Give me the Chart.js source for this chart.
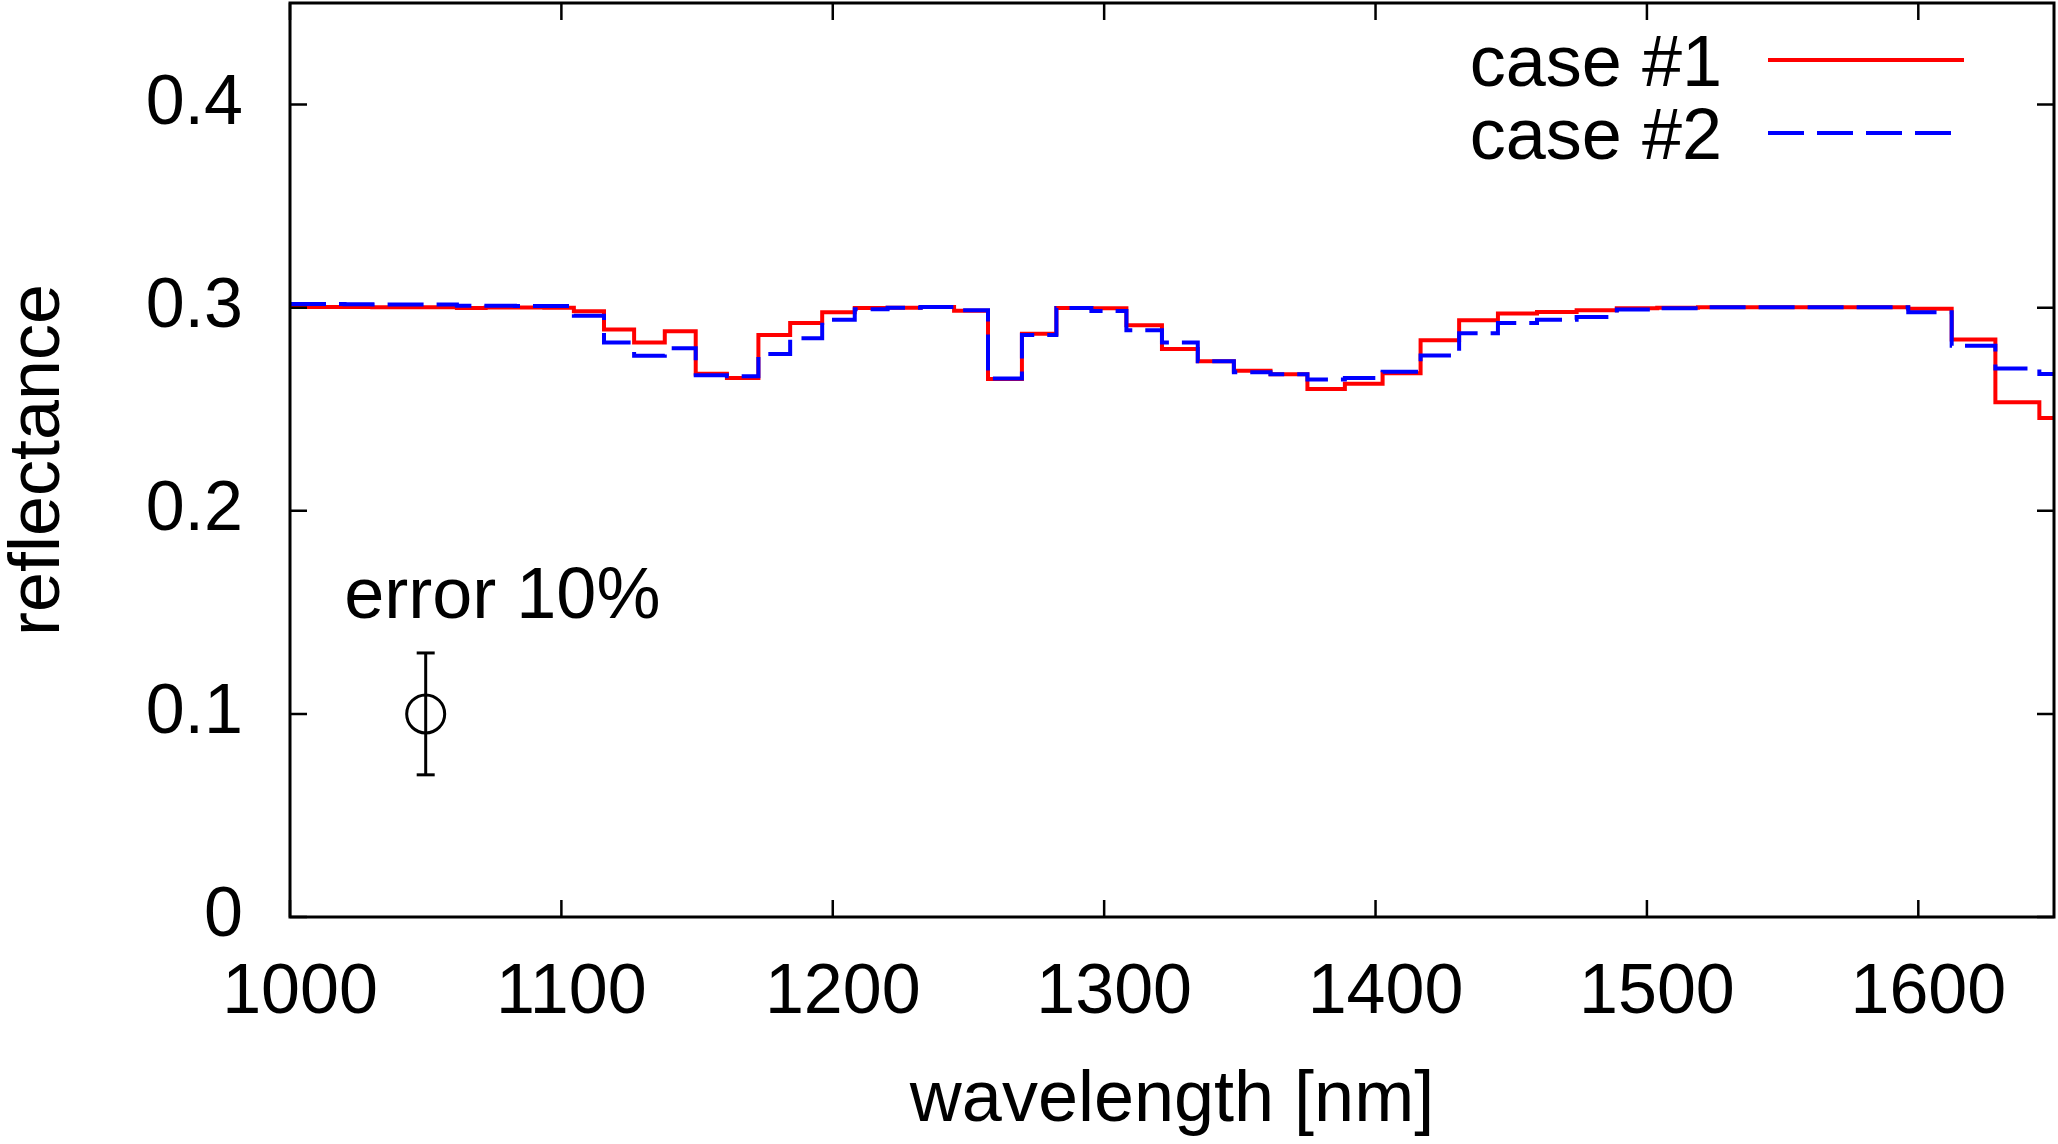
<!DOCTYPE html>
<html lang="en">
<head>
<meta charset="UTF-8">
<title>reflectance</title>
<script src="https://cdn.jsdelivr.net/npm/chart.js@4"></script>
<style>
  html, body { margin: 0; padding: 0; background: #ffffff; }
  #wrap { width: 2058px; height: 1144px; }
</style>
</head>
<body>
<div id="wrap"><canvas id="chart" width="2058" height="1144"></canvas></div>
<script>
// bin edges in nm (lambda/dlambda = 100), each value holds until the next edge
const binEdges = [
  1000.0, 1010.0, 1020.1, 1030.3, 1040.6, 1051.0, 1061.5, 1072.1, 1082.9, 1093.7,
  1104.6, 1115.7, 1126.8, 1138.1, 1149.5, 1161.0, 1172.6, 1184.3, 1196.1, 1208.1,
  1220.2, 1232.4, 1244.7, 1257.2, 1269.7, 1282.4, 1295.3, 1308.2, 1321.3, 1334.5,
  1347.8, 1361.3, 1374.9, 1388.7, 1402.6, 1416.6, 1430.8, 1445.1, 1459.5, 1474.1,
  1488.9, 1503.8, 1518.8, 1534.0, 1549.3, 1564.8, 1580.5, 1596.3, 1612.3, 1628.4,
  1644.6
];
const case1 = [
  0.3003, 0.3003, 0.3003, 0.3002, 0.3002, 0.3002, 0.2998, 0.3001, 0.3001, 0.3000,
  0.2982, 0.2892, 0.2829, 0.2884, 0.2675, 0.2654, 0.2866, 0.2925, 0.2978, 0.2998,
  0.3000, 0.3003, 0.2985, 0.2649, 0.2871, 0.2998, 0.2997, 0.2914, 0.2796, 0.2736,
  0.2690, 0.2672, 0.2599, 0.2625, 0.2677, 0.2840, 0.2938, 0.2971, 0.2979, 0.2987,
  0.2997, 0.3000, 0.3002, 0.3002, 0.3002, 0.3002, 0.3002, 0.2995, 0.2843, 0.2534,
  0.2457
];
const case2 = [
  0.3018, 0.3018, 0.3017, 0.3016, 0.3016, 0.3016, 0.3010, 0.3010, 0.3008, 0.3008,
  0.2960, 0.2829, 0.2763, 0.2800, 0.2667, 0.2662, 0.2772, 0.2850, 0.2941, 0.2992,
  0.3000, 0.3003, 0.2987, 0.2651, 0.2866, 0.2998, 0.2984, 0.2889, 0.2828, 0.2736,
  0.2682, 0.2672, 0.2646, 0.2654, 0.2685, 0.2764, 0.2874, 0.2925, 0.2941, 0.2954,
  0.2991, 0.2997, 0.3002, 0.3002, 0.3002, 0.3002, 0.3002, 0.2977, 0.2812, 0.2701,
  0.2673
];
const seriesNames = ['case #1', 'case #2'];
const xTicks = [1000, 1100, 1200, 1300, 1400, 1500, 1600];
const yTicks = [0, 0.1, 0.2, 0.3, 0.4];
const xRange = [1000, 1650];
const yRange = [0, 0.45];
// sample error marker
const errX = 1050;
const errY = 0.1;
const errSize = 0.03;
const errLabel = 'error 10%';
const errLabelPos = [1020, 0.147];

const FONT = "'Liberation Sans', Arial, Helvetica, sans-serif";

function toSteps(values) {
  const pts = binEdges.map((x, i) => ({ x: x, y: values[i] }));
  pts.push({ x: xRange[1], y: values[values.length - 1] });
  return pts;
}

// fixed axis box sizes, no extra label padding
function fixBox(size, horizontal) {
  return s => {
    if (horizontal) s.height = size; else s.width = size;
    s.paddingTop = 0; s.paddingBottom = 0;
    s.paddingLeft = 0; s.paddingRight = 0;
  };
}

// gnuplot style border with inward ticks on all four sides
const frameTicks = {
  id: 'frameTicks',
  afterDraw(chart) {
    const { ctx, chartArea: a, scales } = chart;
    const len = 17;
    ctx.save();
    ctx.strokeStyle = '#000';
    ctx.lineWidth = 2.5;
    ctx.beginPath();
    xTicks.forEach(v => {
      const px = scales.x.getPixelForValue(v);
      ctx.moveTo(px, a.bottom); ctx.lineTo(px, a.bottom - len);
      ctx.moveTo(px, a.top); ctx.lineTo(px, a.top + len);
    });
    yTicks.forEach(v => {
      const py = scales.y.getPixelForValue(v);
      ctx.moveTo(a.left, py); ctx.lineTo(a.left + len, py);
      ctx.moveTo(a.right, py); ctx.lineTo(a.right - len, py);
    });
    ctx.stroke();
    ctx.lineWidth = 3;
    ctx.strokeRect(a.left, a.top, a.right - a.left, a.bottom - a.top);
    ctx.restore();
  }
};

// legend inside the plot, text on the left of the line sample
const innerLegend = {
  id: 'innerLegend',
  afterDatasetsDraw(chart) {
    const { ctx, chartArea: a, scales } = chart;
    ctx.save();
    ctx.font = '72px ' + FONT;
    ctx.fillStyle = '#000';
    ctx.textAlign = 'right';
    ctx.textBaseline = 'alphabetic';
    [0, 1].forEach((i, row) => {
      const ds = chart.data.datasets[i];
      const y = a.top + 57 + row * 73;
      ctx.fillText(ds.label, a.right - 332, y + 26);
      ctx.strokeStyle = ds.borderColor;
      ctx.lineWidth = ds.borderWidth;
      ctx.setLineDash(ds.borderDash || []);
      ctx.beginPath();
      ctx.moveTo(a.right - 286, y);
      ctx.lineTo(a.right - 90, y);
      ctx.stroke();
    });
    ctx.setLineDash([]);
    ctx.textAlign = 'left';
    ctx.fillText(errLabel, scales.x.getPixelForValue(errLabelPos[0]), scales.y.getPixelForValue(errLabelPos[1]));
    ctx.restore();
  }
};

new Chart(document.getElementById('chart'), {
  type: 'line',
  data: {
    datasets: [
      {
        label: seriesNames[0],
        data: toSteps(case1),
        borderColor: '#ff0000',
        borderWidth: 4,
        stepped: 'before',
        pointRadius: 0,
        fill: false,
        order: 2
      },
      {
        label: seriesNames[1],
        data: toSteps(case2),
        borderColor: '#0000ff',
        borderWidth: 4,
        borderDash: [36, 13],
        stepped: 'before',
        pointRadius: 0,
        fill: false,
        order: 1
      },
      {
        label: 'error bar',
        data: [{ x: errX, y: errY - errSize }, { x: errX, y: errY + errSize }],
        borderColor: '#000',
        borderWidth: 3,
        pointStyle: 'line',
        pointRadius: 9,
        pointBorderWidth: 3,
        pointBorderColor: '#000',
        order: 0
      },
      {
        label: 'error point',
        data: [{ x: errX, y: errY }],
        showLine: false,
        pointStyle: 'circle',
        pointRadius: 19,
        pointBorderWidth: 3,
        pointBorderColor: '#000',
        pointBackgroundColor: 'rgba(0,0,0,0)',
        order: 0
      }
    ]
  },
  options: {
    responsive: false,
    animation: false,
    devicePixelRatio: 1,
    layout: { autoPadding: false, padding: { left: 0, right: 4, top: 3, bottom: 0 } },
    plugins: {
      legend: { display: false },
      tooltip: { enabled: false }
    },
    scales: {
      x: {
        type: 'linear',
        min: xRange[0],
        max: xRange[1],
        afterBuildTicks: s => { s.ticks = xTicks.map(v => ({ value: v })); },
        afterFit: fixBox(227, true),
        grid: { display: false, drawTicks: false },
        border: { display: false },
        ticks: {
          padding: 35,
          labelOffset: 10,
          maxRotation: 0,
          autoSkip: false,
          color: '#000',
          font: { family: FONT, size: 70 },
          callback: v => String(v)
        },
        title: {
          display: true,
          text: 'wavelength [nm]',
          color: '#000',
          font: { family: FONT, size: 72, lineHeight: 1.2 },
          padding: { top: 0, bottom: 0 }
        }
      },
      y: {
        type: 'linear',
        min: yRange[0],
        max: yRange[1],
        afterBuildTicks: s => { s.ticks = yTicks.map(v => ({ value: v })); },
        afterFit: fixBox(290, false),
        grid: { display: false, drawTicks: false },
        border: { display: false },
        ticks: {
          padding: 47,
          color: '#000',
          font: { family: FONT, size: 70 },
          callback: v => (v === 0 ? '0' : v.toFixed(1))
        },
        title: {
          display: true,
          text: 'reflectance',
          color: '#000',
          font: { family: FONT, size: 72, lineHeight: 1.1 },
          padding: { top: 0, bottom: 0 }
        }
      }
    }
  },
  plugins: [frameTicks, innerLegend]
});
</script>
</body>
</html>
